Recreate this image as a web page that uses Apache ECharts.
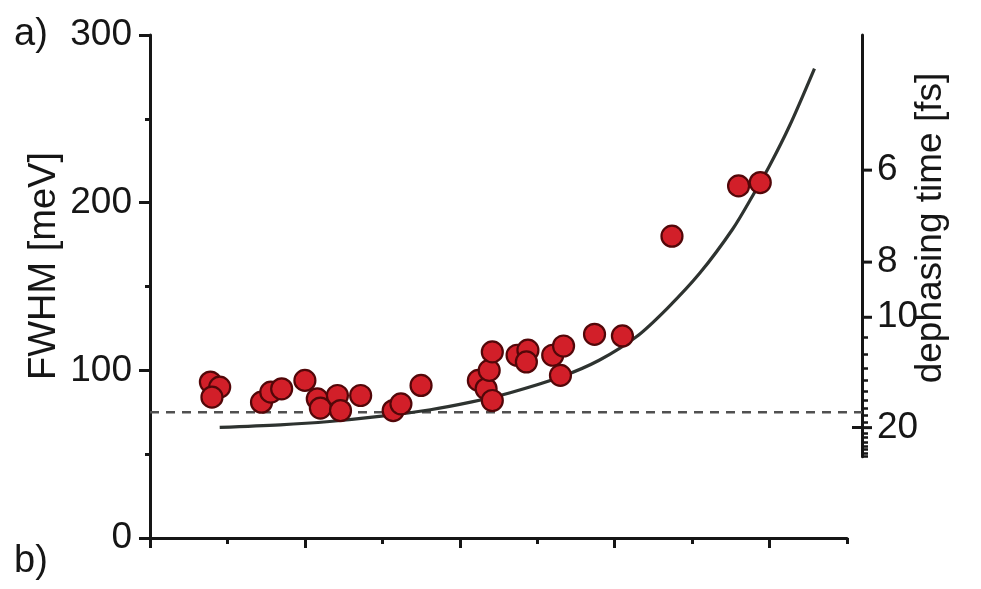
<!DOCTYPE html>
<html>
<head>
<meta charset="utf-8">
<script src="https://cdn.jsdelivr.net/npm/echarts@6/dist/echarts.min.js"></script>
<style>
  html, body { margin: 0; padding: 0; background: #fff; }
  #chart { width: 981px; height: 589px; }
</style>
</head>
<body>
<div id="chart"></div>
<script>
// Measured linewidths (FWHM, meV) against the sweep parameter
const pointX = [0.39, 0.45, 0.40, 0.72, 0.78, 0.85, 1.00, 1.08, 1.10, 1.21, 1.23, 1.36,
                1.57, 1.62, 1.75, 2.12, 2.17, 2.19, 2.21, 2.21, 2.37, 2.44, 2.43, 2.60,
                2.65, 2.67, 2.87, 3.05, 3.37, 3.80, 3.94];
const pointY = [93, 90, 84, 81, 87, 89, 94, 83, 77.5, 85, 76, 85,
                76, 80, 91, 94, 89, 100, 111, 82, 109, 112, 105, 109,
                97, 114.5, 121.5, 120.5, 180, 210, 212];

// Fitted curve through the data
const fitX = [0.45, 0.84, 1.16, 1.48, 1.81, 2.07, 2.32, 2.65, 2.90, 3.14, 3.34,
              3.55, 3.76, 3.89, 4.00, 4.13, 4.29];
const fitY = [66, 67.5, 69.5, 72.5, 76.5, 81, 86.5, 96, 106, 120, 137,
              158, 184, 204, 222, 246, 280];

// Homogeneous-limit reference linewidth (meV)
const baselineWidth = 75;

// Axis ticks
const widthTicks = [0, 100, 200, 300];
const timeMajor = [6, 8, 10, 20];
const timeMinor = [11, 12, 13, 14, 15, 16, 17, 18, 19, 21, 22, 23, 24, 25, 26, 27];
const timeCross = [20];
const xMajor = [0, 1, 2, 3, 4];
const xMinor = [0.5, 1.5, 2.5, 3.5, 4.5];

// dephasing time T2 = 2ħ / FWHM, with ħ = 658.2 meV·fs
const TWO_HBAR = 1316.4;
const widthOf = t => TWO_HBAR / t;

const FONT = '"Liberation Sans", Arial, sans-serif';
const INK = '#161616';
const FS = 37;

// plot frame (pixels)
const W = 981, H = 589;
const frameLeft = 150, frameTop = 35, zeroPx = 538, xEndPx = 847, rightAxisPx = 862;
const xMax = 4.5;
const pxPerUnitX = (xEndPx - frameLeft) / xMax;
const pxPerMeV = (zeroPx - frameTop) / 300;
const timeAxisMin = widthOf(27.2);
const rightGridBottom = H - (zeroPx - timeAxisMin * pxPerMeV);
const rightGridXMax = (rightAxisPx - frameLeft) / pxPerUnitX;
const MAJOR_TICK = 10;

const axisLineStyle = { color: INK, width: 3 };
const tickStyle = { color: INK, width: 3 };

// the dephasing-time scale lives in its own grids, one layer of ticks each
const rightGrid = { left: frameLeft, right: W - rightAxisPx, top: frameTop, bottom: rightGridBottom };
function timeAxis(gridIndex, extra) {
  return Object.assign({
    gridIndex: gridIndex, type: 'value', position: 'right',
    min: timeAxisMin, max: 300,
    axisLine: { show: false, onZero: false },
    axisTick: { show: false },
    axisLabel: { show: false },
    splitLine: { show: false }
  }, extra);
}
function hiddenX(gridIndex) {
  return { gridIndex: gridIndex, type: 'value', min: 0, max: rightGridXMax, show: false };
}

const chart = echarts.init(document.getElementById('chart'));
chart.setOption({
  animation: false,
  backgroundColor: '#fff',
  grid: [
    { left: frameLeft, right: W - xEndPx, top: frameTop, bottom: H - zeroPx },
    rightGrid, rightGrid, rightGrid
  ],
  xAxis: [
    {
      gridIndex: 0, type: 'value', min: 0, max: xMax,
      axisLine: { show: true, onZero: false, lineStyle: axisLineStyle },
      axisTick: { show: true, customValues: xMajor, length: 10, lineStyle: tickStyle },
      axisLabel: { show: false },
      splitLine: { show: false }
    },
    {
      gridIndex: 0, type: 'value', min: 0, max: xMax, position: 'bottom',
      axisLine: { show: false, onZero: false },
      axisTick: { show: true, customValues: xMinor, length: 6, lineStyle: tickStyle },
      axisLabel: { show: false },
      splitLine: { show: false }
    },
    hiddenX(1), hiddenX(2), hiddenX(3)
  ],
  yAxis: [
    {
      gridIndex: 0, type: 'value', min: 0, max: 300, interval: 100,
      axisLine: { show: true, onZero: false, lineStyle: axisLineStyle },
      axisTick: { show: true, length: 11, lineStyle: tickStyle },
      minorTick: { show: true, splitNumber: 2, length: 5, lineStyle: tickStyle },
      axisLabel: {
        color: INK, fontSize: FS, fontFamily: FONT, margin: 18,
        customValues: widthTicks
      },
      splitLine: { show: false }
    },
    // axis line and labels
    timeAxis(1, {
      axisLine: { show: true, onZero: false, lineStyle: axisLineStyle },
      axisLabel: {
        show: true,
        customValues: timeMajor.map(widthOf),
        formatter: v => String(Math.round(TWO_HBAR / v)),
        color: INK, fontSize: FS, fontFamily: FONT, margin: 15
      }
    }),
    // unlabelled ticks
    timeAxis(2, {
      axisTick: { show: true, customValues: timeMinor.map(widthOf), length: 6, lineStyle: { color: INK, width: 2.5 } }
    }),
    // the 20 fs tick crosses the line
    timeAxis(3, {
      axisTick: { show: true, inside: true, customValues: timeCross.map(widthOf), length: 10, lineStyle: tickStyle }
    })
  ],
  series: [
    {
      name: 'baseline', type: 'line', xAxisIndex: 2, yAxisIndex: 1,
      data: [[0, baselineWidth], [rightGridXMax, baselineWidth]],
      symbol: 'none', silent: true, z: 1,
      lineStyle: { color: '#505050', width: 2.5, type: [9, 7] }
    },
    {
      // labelled ticks of the dephasing-time scale, placed on that axis
      name: 'timeTicks', type: 'custom', xAxisIndex: 2, yAxisIndex: 1,
      data: timeMajor.map(t => [rightGridXMax, widthOf(t)]),
      silent: true, clip: false, z: 5,
      renderItem: function (params, api) {
        const p = api.coord([api.value(0), api.value(1)]);
        return {
          type: 'line',
          shape: { x1: p[0], y1: p[1], x2: p[0] + MAJOR_TICK, y2: p[1] },
          style: { stroke: INK, lineWidth: 3 }
        };
      }
    },
    { type: 'line', xAxisIndex: 3, yAxisIndex: 2, data: [], silent: true },
    { type: 'line', xAxisIndex: 4, yAxisIndex: 3, data: [], silent: true },
    {
      name: 'fit', type: 'line', xAxisIndex: 0, yAxisIndex: 0,
      data: fitX.map((x, i) => [x, fitY[i]]),
      smooth: 0.3, symbol: 'none', silent: true, z: 2,
      lineStyle: { color: '#2e3330', width: 3.2 }
    },
    {
      name: 'FWHM', type: 'scatter', xAxisIndex: 0, yAxisIndex: 0,
      data: pointX.map((x, i) => [x, pointY[i]]),
      symbol: 'circle', symbolSize: 21, z: 3,
      itemStyle: { color: '#d21f29', borderColor: '#520709', borderWidth: 2.2, opacity: 1 }
    }
  ],
  graphic: [
    { type: 'text', left: 14, top: 16, style: { text: 'a)', fontSize: 38, fontFamily: FONT, fill: INK } },
    { type: 'text', left: 14, top: 543, style: { text: 'b)', fontSize: 38, fontFamily: FONT, fill: INK } },
    {
      type: 'text', x: 45, y: 266, rotation: Math.PI / 2,
      style: { text: 'FWHM [meV]', fontSize: 38, fontFamily: FONT, fill: INK, align: 'center', verticalAlign: 'middle' }
    },
    {
      type: 'text', x: 931, y: 228, rotation: Math.PI / 2,
      style: { text: 'dephasing time [fs]', fontSize: 37, fontFamily: FONT, fill: INK, align: 'center', verticalAlign: 'middle' }
    }
  ]
});
</script>
</body>
</html>
